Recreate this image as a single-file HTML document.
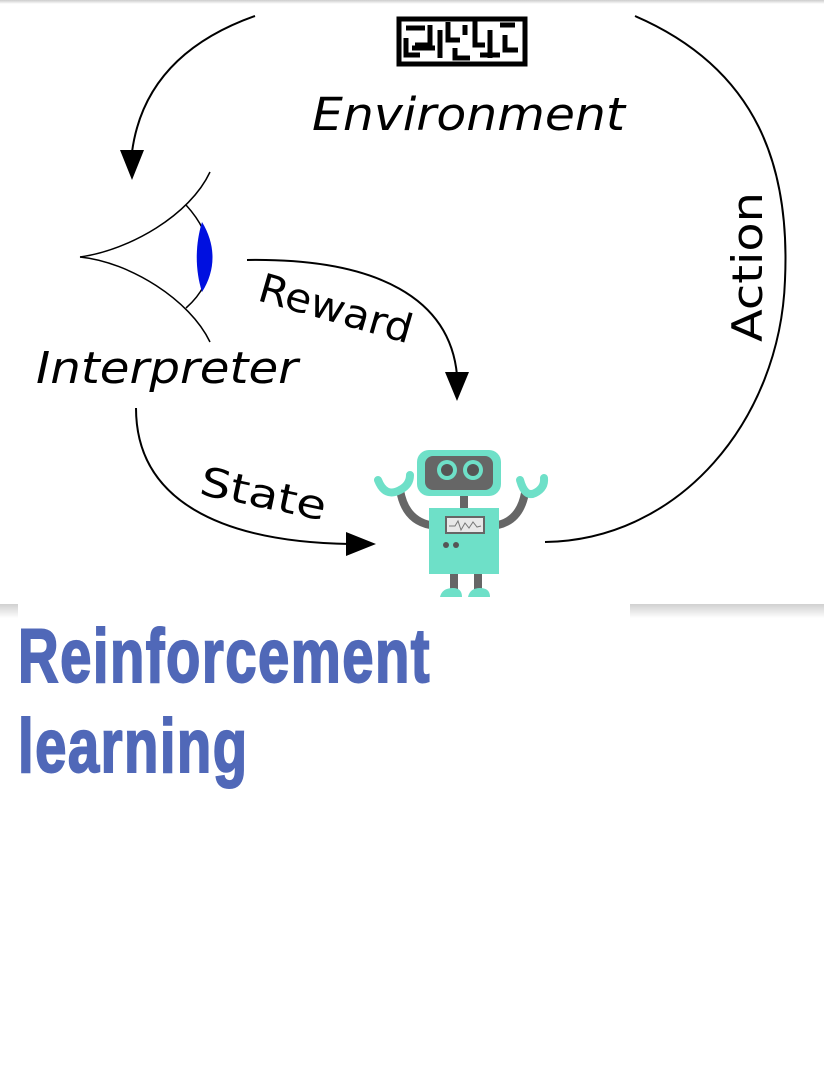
<!DOCTYPE html>
<html><head><meta charset="utf-8"><style>
html,body{margin:0;padding:0;background:#fff;width:824px;height:1080px;overflow:hidden;position:relative}
.shadow{position:absolute;left:0;top:604px;width:824px;height:14px;background:linear-gradient(#d0d0d0,#fff)}
.topbar{position:absolute;left:0;top:0;width:824px;height:4px;background:linear-gradient(#ccc,#fff)}
.cover{position:absolute;left:18px;top:604px;width:612px;height:20px;background:#fff}
.title{position:absolute;left:18px;top:612px;font-family:"Liberation Sans Narrow","Liberation Sans",sans-serif;font-weight:bold;color:#5068b8;font-size:76px;line-height:90px;transform:scaleX(0.74);transform-origin:0 0;letter-spacing:2px;-webkit-text-stroke:2px #5068b8}
svg{position:absolute;left:0;top:0}
</style></head><body>
<div class="topbar"></div>
<svg width="824" height="610" viewBox="0 0 824 610">
<g fill="none" stroke="#000" stroke-width="2">
<path d="M255,16 Q145,55 132,152"/>
<path d="M635,16 C760,70 790,170 785,280 C780,420 680,540 545,542"/>
<path d="M247,260 C380,258 450,300 457,375"/>
<path d="M136,408 C136,500 220,542 350,544"/>
<path d="M80,257 C130,250 190,215 210,172" stroke-width="1.5"/>
<path d="M80,257 C130,262 190,300 210,342" stroke-width="1.5"/>
<path d="M186,205 C218,240 218,280 186,308" stroke-width="1.5"/>
</g>
<path d="M132,180 L120,150 L144,150 Z"/>
<path d="M457,401 L445,372 L469,372 Z"/>
<path d="M376,544 L346,532 L346,556 Z"/>
<path d="M202,222 C216,245 216,270 202,292 C195,270 195,245 202,222 Z" fill="#0010e0"/>
<g fill="none" stroke="#000" stroke-width="5">
<rect x="399" y="19" width="126" height="45"/>
<path d="M406,28 H425 M406,38 V55 H420 M430,25 V45 H415 M440,30 V58 M448,22 V40 H460 M455,48 V58 H470 M465,25 V35 M475,20 V45 H485 M490,30 V58 M500,25 H515 M505,35 V50 H518 M412,48 H435 M480,55 H500"/>
</g>
<g font-family="'DejaVu Sans','Liberation Sans',sans-serif" fill="#000">
<text x="312" y="130" font-size="45" font-style="italic" textLength="313" lengthAdjust="spacingAndGlyphs">Environment</text>
<text x="36" y="383" font-size="44" font-style="italic" textLength="262" lengthAdjust="spacingAndGlyphs">Interpreter</text>
<text transform="translate(762,342) rotate(-90)" font-size="42" textLength="150" lengthAdjust="spacingAndGlyphs">Action</text>
<text transform="translate(256,300) rotate(16)" font-size="40" textLength="158" lengthAdjust="spacingAndGlyphs">Reward</text>
<text transform="translate(198,494) rotate(12)" font-size="40" textLength="128" lengthAdjust="spacingAndGlyphs">State</text>
</g>
<g>
<path d="M400,490 Q405,520 430,525" stroke="#666" stroke-width="8" fill="none"/>
<path d="M525,493 Q520,520 498,525" stroke="#666" stroke-width="8" fill="none"/>
<path d="M378,480 Q385,498 400,490 Q410,485 410,475" stroke="#6ee0c8" stroke-width="8" fill="none" stroke-linecap="round"/>
<path d="M520,480 Q525,498 535,493 Q545,488 544,478" stroke="#6ee0c8" stroke-width="8" fill="none" stroke-linecap="round"/>
<rect x="460" y="492" width="8" height="18" fill="#666"/>
<rect x="417" y="450" width="84" height="46" rx="12" fill="#6ee0c8"/>
<rect x="425" y="456" width="68" height="34" rx="8" fill="#666"/>
<circle cx="447" cy="470" r="10" fill="#6ee0c8"/><circle cx="447" cy="470" r="6" fill="#555"/>
<circle cx="473" cy="470" r="10" fill="#6ee0c8"/><circle cx="473" cy="470" r="6" fill="#555"/>
<rect x="450" y="572" width="8" height="20" fill="#666"/>
<rect x="474" y="572" width="8" height="20" fill="#666"/>
<rect x="429" y="508" width="70" height="66" fill="#6ee0c8"/>
<rect x="445" y="516" width="40" height="18" fill="#666"/>
<rect x="447" y="518" width="36" height="14" fill="#e8e8e8"/>
<path d="M449,526 L455,526 L458,521 L461,530 L465,523 L469,528 L473,522 L477,527 L481,526" stroke="#777" fill="none" stroke-width="1"/>
<circle cx="446" cy="545" r="3" fill="#555"/><circle cx="456" cy="545" r="3" fill="#555"/>
<path d="M440,597 Q442,588 453,588 Q462,588 462,597 Z" fill="#6ee0c8"/>
<path d="M468,597 Q470,588 480,588 Q490,588 490,597 Z" fill="#6ee0c8"/>
</g>
</svg>
<div class="shadow"></div>
<div class="cover"></div>
<div class="title">Reinforcement<br>learning</div>
</body></html>
